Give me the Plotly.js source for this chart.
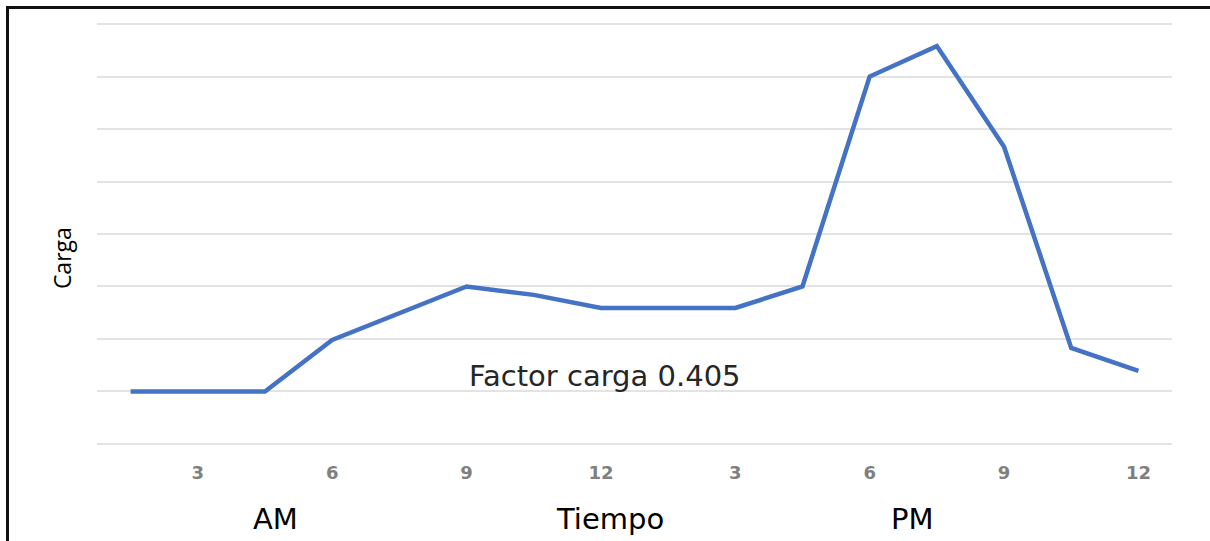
<!DOCTYPE html>
<html>
<head>
<meta charset="utf-8">
<script src="https://cdn.plot.ly/plotly-3.0.1.min.js"></script>
<style>
  html, body { margin: 0; padding: 0; background: #fff; }
  #wrap { position: relative; width: 1210px; height: 541px; overflow: hidden; }
  #chart { position: absolute; left: 0; top: 0; width: 1210px; height: 541px; }
  .edgeL { position: absolute; left: 6px; top: 6px; width: 3px; height: 535px; background: #111; }
  .edgeT { position: absolute; left: 6px; top: 6px; width: 1204px; height: 3px; background: #111; }
</style>
</head>
<body>
<div id="wrap">
  <div id="chart"></div>
  <div class="edgeL"></div>
  <div class="edgeT"></div>
</div>
<script>
// Hour of day for each point (every 1.5 h)
const hours = [1.5, 3, 4.5, 6, 7.5, 9, 10.5, 12, 13.5, 15, 16.5, 18, 19.5, 21, 22.5, 24];
// Load (carga), in gridline units
const carga = [1.0, 1.0, 1.0, 1.98, 2.5, 3.0, 2.84, 2.59, 2.59, 2.59, 3.0, 7.0, 7.58, 5.66, 1.83, 1.39];
// Tick positions and labels (12-hour clock)
const tickHours = [3, 6, 9, 12, 15, 18, 21, 24];
const tickLabels = ["3", "6", "9", "12", "3", "6", "9", "12"];
const gridVals = [0, 1, 2, 3, 4, 5, 6, 7, 8];

const trace = {
  x: hours,
  y: carga,
  type: 'scatter',
  mode: 'lines',
  line: { color: '#4472C4', width: 4.5 },
  hoverinfo: 'skip'
};

const layout = {
  width: 1210,
  height: 541,
  margin: { l: 97, r: 38, t: 23, b: 96 },
  paper_bgcolor: '#ffffff',
  plot_bgcolor: '#ffffff',
  showlegend: false,
  xaxis: {
    range: [0.75, 24.75],
    tickmode: 'array',
    tickvals: tickHours,
    ticktext: tickLabels,
    showgrid: false,
    zeroline: false,
    showline: false,
    ticks: 'outside',
    ticklen: 11,
    tickcolor: 'rgba(0,0,0,0)',
    tickfont: { family: 'DejaVu Sans', size: 18, color: '#7f7f7f', weight: 'bold' }
  },
  yaxis: {
    range: [-0.02, 8.02],
    tickmode: 'array',
    tickvals: gridVals,
    showticklabels: false,
    showgrid: true,
    gridcolor: '#e3e3e3',
    gridwidth: 2,
    zeroline: false,
    showline: false
  },
  annotations: [
    { text: 'Factor carga 0.405', xref: 'paper', yref: 'paper', x: 0.4726, y: (444 - 375) / 420,
      showarrow: false, xanchor: 'center', yanchor: 'middle',
      font: { family: 'DejaVu Sans', size: 29, color: '#262626' } },
    { text: 'AM', xref: 'paper', yref: 'paper', x: (275 - 97) / 1075, y: (444 - 518) / 420,
      showarrow: false, xanchor: 'center', yanchor: 'middle',
      font: { family: 'DejaVu Sans', size: 29, color: '#000000' } },
    { text: 'Tiempo', xref: 'paper', yref: 'paper', x: (610 - 97) / 1075, y: (444 - 518) / 420,
      showarrow: false, xanchor: 'center', yanchor: 'middle',
      font: { family: 'DejaVu Sans', size: 29, color: '#000000' } },
    { text: 'PM', xref: 'paper', yref: 'paper', x: (912 - 97) / 1075, y: (444 - 518) / 420,
      showarrow: false, xanchor: 'center', yanchor: 'middle',
      font: { family: 'DejaVu Sans', size: 29, color: '#000000' } },
    { text: 'Carga', xref: 'paper', yref: 'paper', x: (62 - 97) / 1075, y: (444 - 258) / 420,
      showarrow: false, xanchor: 'center', yanchor: 'middle', textangle: -90,
      font: { family: 'Open Sans', size: 23, color: '#000000' } }
  ]
};

Plotly.newPlot('chart', [trace], layout, { staticPlot: true, displayModeBar: false });
</script>
</body>
</html>
